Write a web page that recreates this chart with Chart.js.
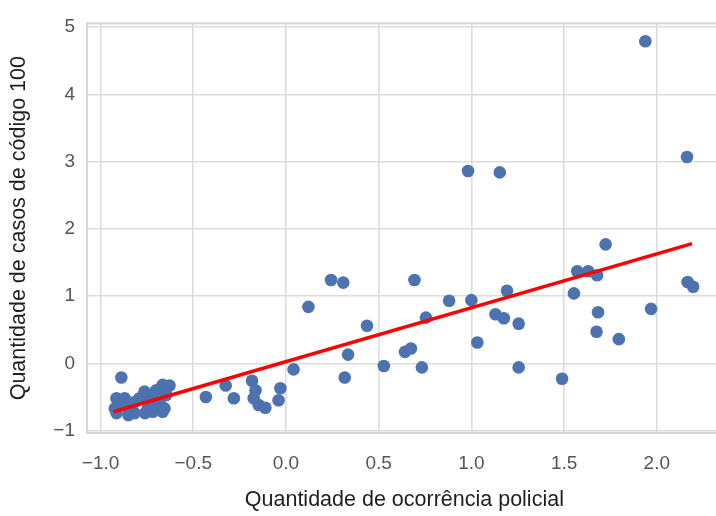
<!DOCTYPE html>
<html>
<head>
<meta charset="utf-8">
<script src="https://cdn.jsdelivr.net/npm/chart.js@4/dist/chart.umd.min.js"></script>
<style>
  html, body { margin: 0; padding: 0; background: #ffffff; overflow: hidden; }
  #wrap { width: 728px; height: 516px; }
</style>
</head>
<body>
<div id="wrap"><canvas id="c" width="728" height="516"></canvas></div>
<script>
// Standardised police occurrences (x) vs. code-100 cases (y)
const ocorrencias = [
  -0.888, -0.914, -0.923, -0.914, -0.870, -0.852, -0.850, -0.816, -0.790, -0.763,
  -0.760, -0.745, -0.718, -0.710, -0.700, -0.690, -0.665, -0.646, -0.655, -0.665,
  -0.628, -0.900, -0.820, -0.730, -0.680,
  -0.432, -0.325, -0.281, -0.183, -0.164, -0.174, -0.147, -0.111, -0.030, -0.040,
  0.041,
  0.121, 0.243, 0.309, 0.335, 0.317, 0.437, 0.528, 0.642, 0.674, 0.693,
  0.733, 0.755, 0.880,
  0.982, 1.000, 1.032, 1.130, 1.153, 1.175, 1.192, 1.255, 1.255, 1.489,
  1.553, 1.571, 1.630, 1.678, 1.675, 1.683, 1.724, 1.795, 1.938, 1.969,
  2.163, 2.166, 2.196
];
const casos100 = [
  -0.21, -0.52, -0.67, -0.74, -0.52, -0.67, -0.77, -0.74, -0.52, -0.42,
  -0.74, -0.67, -0.72, -0.62, -0.40, -0.57, -0.32, -0.47, -0.67, -0.72,
  -0.33, -0.60, -0.58, -0.50, -0.60,
  -0.50, -0.33, -0.52, -0.26, -0.40, -0.52, -0.62, -0.66, -0.37, -0.55,
  -0.09,
  0.84, 1.24, 1.20, 0.13, -0.21, 0.56, -0.04, 0.17, 0.22, 1.24,
  -0.06, 0.68, 0.93,
  2.86, 0.94, 0.31, 0.73, 2.84, 0.67, 1.08, 0.59, -0.06, -0.23,
  1.04, 1.37, 1.37, 1.31, 0.47, 0.76, 1.77, 0.36, 4.79, 0.81,
  3.07, 1.21, 1.14
];

// Least-squares fit line, drawn across the data's x extent
const retaX = [-0.93, 2.19];
const retaY = [-0.72, 1.78];

const tituloX = 'Quantidade de ocorrência policial';
const tituloY = 'Quantidade de casos de código 100';

const pontos = ocorrencias.map((x, i) => ({ x: x, y: casos100[i] }));
const reta = retaX.map((x, i) => ({ x: x, y: retaY[i] }));

const minus = s => s.replace('-', '\u2212');

// light frame around the plotting area
const frame = {
  id: 'frame',
  beforeDatasetsDraw(chart) {
    const { ctx, chartArea: a } = chart;
    ctx.save();
    ctx.strokeStyle = '#d6d6d6';
    ctx.lineWidth = 2;
    ctx.strokeRect(a.left, a.top, a.right - a.left, a.bottom - a.top);
    ctx.restore();
  }
};

const font = 'Liberation Sans, Arial, sans-serif';

new Chart(document.getElementById('c'), {
  type: 'scatter',
  data: {
    datasets: [
      {
        type: 'line',
        data: reta,
        borderColor: '#ff0000',
        borderWidth: 3.5,
        pointRadius: 0,
        fill: false,
        order: 0
      },
      {
        data: pontos,
        backgroundColor: '#4c72b0',
        borderWidth: 0,
        pointRadius: 6.3,
        order: 1
      }
    ]
  },
  options: {
    responsive: false,
    animation: false,
    devicePixelRatio: 1,
    layout: { padding: { top: 23, left: 0, right: 2, bottom: 0 } },
    plugins: { legend: { display: false }, tooltip: { enabled: false } },
    scales: {
      x: {
        type: 'linear',
        min: -1.073,
        max: 2.35,
        border: { display: false },
        grid: { color: '#dcdcdc', lineWidth: 1.6, drawTicks: false },
        ticks: {
          stepSize: 0.5,
          includeBounds: false,
          padding: 19,
          color: '#555555',
          font: { family: font, size: 19 },
          maxRotation: 0,
          callback: v => minus(Number(v).toFixed(1))
        },
        title: {
          display: true,
          text: tituloX,
          color: '#1e1e1e',
          font: { family: font, size: 21.5 },
          padding: { top: 0, bottom: 3 }
        },
        afterFit: s => { s.height = 83; }
      },
      y: {
        type: 'linear',
        min: -1.036,
        max: 5.056,
        border: { display: false },
        grid: { color: '#dcdcdc', lineWidth: 1.6, drawTicks: false },
        ticks: {
          stepSize: 1,
          includeBounds: false,
          padding: 12,
          color: '#555555',
          font: { family: font, size: 19 },
          callback: v => minus(String(v))
        },
        title: {
          display: true,
          text: tituloY,
          color: '#1e1e1e',
          font: { family: font, size: 21.5 },
          padding: { top: 6, bottom: 0 }
        },
        afterFit: s => { s.width = 87; }
      }
    }
  },
  plugins: [frame]
});
</script>
</body>
</html>
